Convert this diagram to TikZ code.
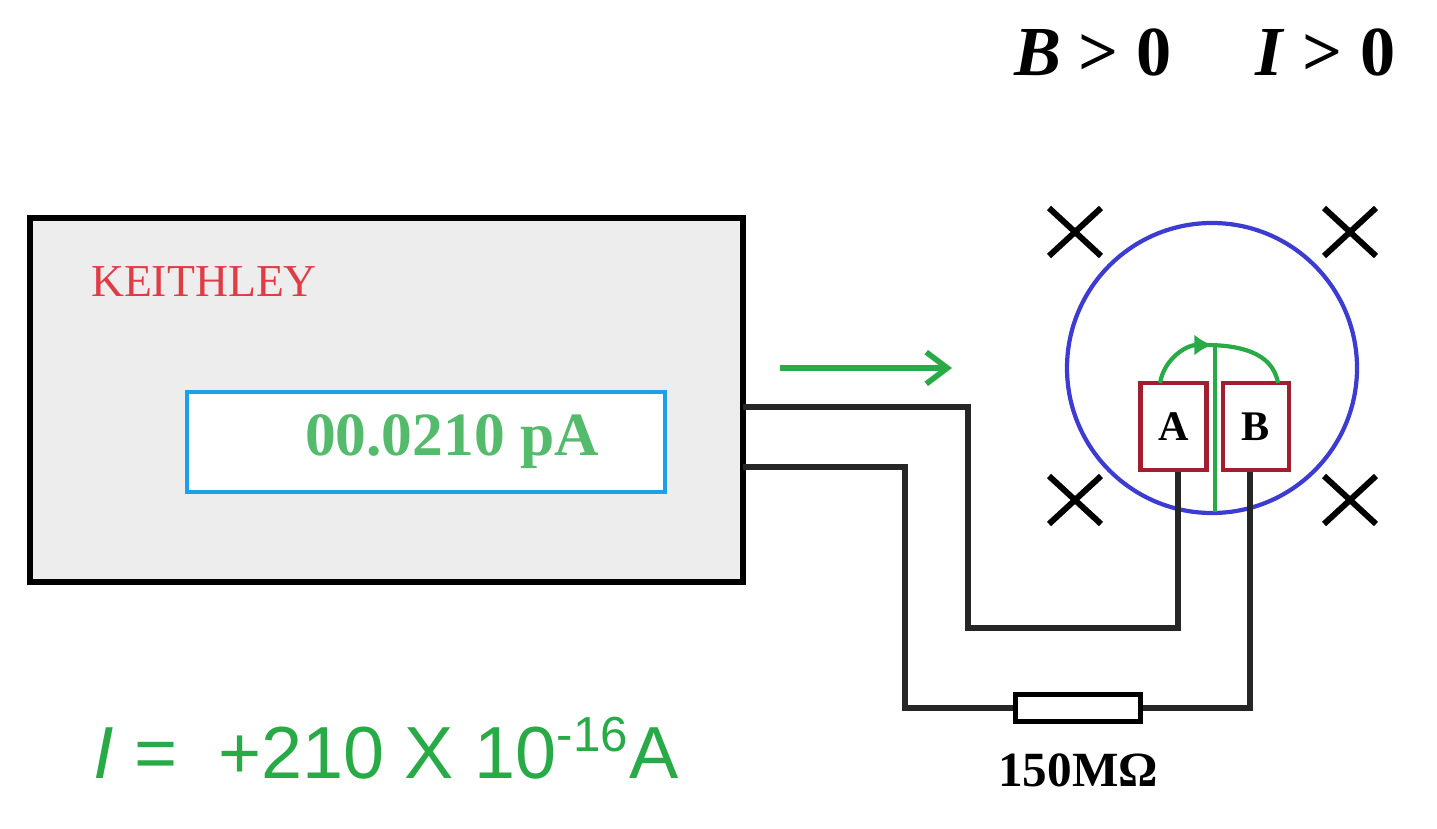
\documentclass[tikz,border=0pt]{standalone}
\usepackage{fontspec}
\setmainfont{Liberation Serif}
\newfontfamily\sansf{Liberation Sans}
\usetikzlibrary{arrows.meta}
\definecolor{meterred}{RGB}{225,60,70}
\definecolor{disp}{RGB}{30,160,230}
\definecolor{grn}{RGB}{40,170,70}
\definecolor{padred}{RGB}{160,30,45}
\definecolor{ringblue}{RGB}{60,60,210}

\begin{document}
\begin{tikzpicture}[
      x = 0.1mm, y = -0.1mm,
      wire/.style = {line width = 1.5pt, black!85},
      pad/.style = {draw = padred, line width = 1.3pt, fill = white,
        minimum width = 6.6mm, minimum height = 8.7mm, inner sep = 0pt,
        font = \fontsize{12}{14}\selectfont\bfseries},
      cross/.style = {line width = 1.7pt, black}
      ]
    \useasboundingbox (0,0) rectangle (1437,828);
    % meter
    \draw[line width = 1.6pt, fill = black!7] (30,218) rectangle (743,582);
    \node[text = meterred, font = \fontsize{13}{15}\selectfont] (brand) at (204,282) {KEITHLEY};
    \draw[disp, line width = 1.3pt, fill = white] (187,392) rectangle (665,492);
    \node[text = grn!80, font = \fontsize{17.5}{19}\selectfont\bfseries] (reading) at (452,442) {00.0210 pA};
    \coordinate (arrS) at (780,368);
    \coordinate (arrE) at (952,368);
    \draw[grn, line width = 1.6pt, -{Straight Barb[length=6pt,width=9pt]}] (arrS) -- (arrE);
    % sample
    \draw[ringblue, line width = 1.2pt] (1212,368) circle [radius = 145];
    \foreach \cx/\cy in {1075/232, 1350/232, 1075/500, 1350/500}
      \draw[cross] (\cx-26,\cy-24) -- (\cx+26,\cy+24) (\cx-26,\cy+24) -- (\cx+26,\cy-24);
    \node[pad] (A) at (1173.5,426.5) {A};
    \node[pad] (B) at (1256,426.5) {B};
    \draw[grn, line width = 1.2pt] (1215,345) -- (1215,512);
    \draw[grn, line width = 1.2pt, -{Latex[length=5pt,width=6pt]}] (1160,383) to[out = 80, in = 180] (1212,345);
    \draw[grn, line width = 1.2pt] (1205,345) to[out = 0, in = 100] (1278,383);
    % wiring
    \node[draw, line width = 1.4pt, minimum width = 12.5mm, minimum height = 2.7mm, inner sep = 0pt] (R) at (1078,708) {};
    \coordinate (outA) at (743,407);
    \coordinate (outB) at (743,467);
    \draw[wire] (outA) -| (968,628) -| (A.south -| 1178,0);
    \draw[wire] (outB) -| (905,708) -- (R.west);
    \draw[wire] (R.east) -| (B.south -| 1250,0);
    % labels
    \node[font = \fontsize{14}{16}\selectfont\bfseries] (rval) at (1078,770) {150MΩ};
    \node[font = \fontsize{20}{22}\selectfont\bfseries] (cond) at (1205,52) {\textit{B} > 0\hspace{1.2em}\textit{I} > 0};
    \node[text = grn, font = \sansf\fontsize{21}{23}\selectfont] (curr) at (386,748)
      {\textit{I} = \ +210 X 10$^{\hbox{\sansf\fontsize{14}{16}\selectfont -16}}$A};
  \end{tikzpicture}
\end{document}
